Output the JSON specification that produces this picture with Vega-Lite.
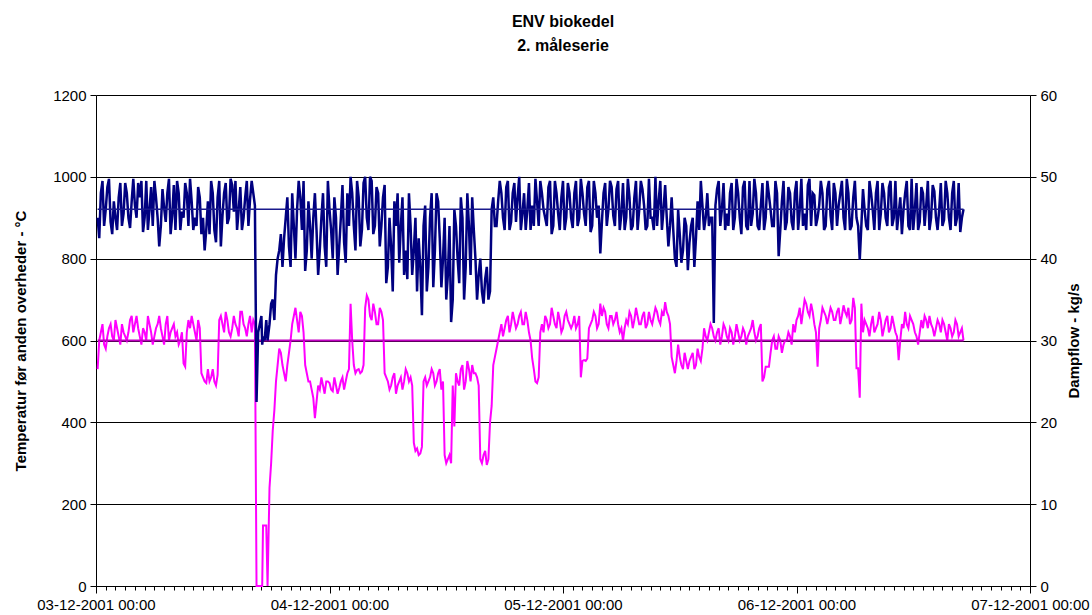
{
"$schema": "https://vega.github.io/schema/vega-lite/v6.json",
"width": 934, "height": 491,
"autosize": "none",
"padding": {"left": 96, "top": 95, "right": 62, "bottom": 29},
"background": "white",
"config": {"font": "Liberation Sans", "view": {"stroke": null}},
"title": {"text": ["ENV biokedel", "2. måleserie"], "fontSize": 16, "fontWeight": "bold", "font": "Liberation Sans", "lineHeight": 24, "anchor": "middle", "offset": 34, "color": "black"},
"datasets": {
"series": [
{"time":"2001-12-03 00:10","temp":900,"flow":26.5},{"time":"2001-12-03 00:20","temp":850,"flow":30},{"time":"2001-12-03 00:30","temp":960,"flow":31},{"time":"2001-12-03 00:40","temp":990,"flow":32},{"time":"2001-12-03 00:50","temp":880,"flow":29.5},
{"time":"2001-12-03 01:00","temp":920,"flow":29},{"time":"2001-12-03 01:10","temp":975,"flow":30.5},{"time":"2001-12-03 01:20","temp":995,"flow":31.5},{"time":"2001-12-03 01:30","temp":890,"flow":32},{"time":"2001-12-03 01:40","temp":860,"flow":30.5},{"time":"2001-12-03 01:50","temp":940,"flow":30},
{"time":"2001-12-03 02:00","temp":900,"flow":32.5},{"time":"2001-12-03 02:10","temp":870,"flow":31.5},{"time":"2001-12-03 02:20","temp":950,"flow":30.5},{"time":"2001-12-03 02:30","temp":985,"flow":29.5},{"time":"2001-12-03 02:40","temp":880,"flow":32},{"time":"2001-12-03 02:50","temp":910,"flow":31},
{"time":"2001-12-03 03:00","temp":985,"flow":30.5},{"time":"2001-12-03 03:10","temp":960,"flow":30},{"time":"2001-12-03 03:20","temp":900,"flow":31},{"time":"2001-12-03 03:30","temp":875,"flow":32.5},{"time":"2001-12-03 03:40","temp":940,"flow":33},{"time":"2001-12-03 03:50","temp":995,"flow":31},
{"time":"2001-12-03 04:00","temp":930,"flow":32},{"time":"2001-12-03 04:10","temp":900,"flow":33},{"time":"2001-12-03 04:20","temp":985,"flow":31.5},{"time":"2001-12-03 04:30","temp":950,"flow":30.5},{"time":"2001-12-03 04:40","temp":990,"flow":29.5},{"time":"2001-12-03 04:50","temp":865,"flow":31.5},
{"time":"2001-12-03 05:00","temp":900,"flow":31},{"time":"2001-12-03 05:10","temp":990,"flow":30},{"time":"2001-12-03 05:20","temp":870,"flow":33},{"time":"2001-12-03 05:30","temp":920,"flow":32},{"time":"2001-12-03 05:40","temp":975,"flow":31},{"time":"2001-12-03 05:50","temp":880,"flow":29.5},
{"time":"2001-12-03 06:00","temp":990,"flow":30.5},{"time":"2001-12-03 06:10","temp":950,"flow":31.5},{"time":"2001-12-03 06:20","temp":900,"flow":32},{"time":"2001-12-03 06:30","temp":830,"flow":33},{"time":"2001-12-03 06:40","temp":880,"flow":31.5},{"time":"2001-12-03 06:50","temp":970,"flow":30.5},
{"time":"2001-12-03 07:00","temp":925,"flow":29.5},{"time":"2001-12-03 07:10","temp":890,"flow":32},{"time":"2001-12-03 07:20","temp":960,"flow":33},{"time":"2001-12-03 07:30","temp":995,"flow":30},{"time":"2001-12-03 07:40","temp":860,"flow":31},{"time":"2001-12-03 07:50","temp":905,"flow":31.5},
{"time":"2001-12-03 08:00","temp":980,"flow":32},{"time":"2001-12-03 08:10","temp":870,"flow":30.5},{"time":"2001-12-03 08:20","temp":990,"flow":31},{"time":"2001-12-03 08:30","temp":960,"flow":29.5},{"time":"2001-12-03 08:40","temp":870,"flow":30},{"time":"2001-12-03 08:50","temp":915,"flow":31},
{"time":"2001-12-03 09:00","temp":900,"flow":27.2},{"time":"2001-12-03 09:10","temp":985,"flow":26.8},{"time":"2001-12-03 09:20","temp":960,"flow":31},{"time":"2001-12-03 09:30","temp":880,"flow":32.5},{"time":"2001-12-03 09:40","temp":995,"flow":31.5},{"time":"2001-12-03 09:50","temp":940,"flow":33},
{"time":"2001-12-03 10:00","temp":870,"flow":32},{"time":"2001-12-03 10:10","temp":900,"flow":31},{"time":"2001-12-03 10:20","temp":880,"flow":30},{"time":"2001-12-03 10:30","temp":975,"flow":32.5},{"time":"2001-12-03 10:40","temp":950,"flow":31.5},{"time":"2001-12-03 10:50","temp":860,"flow":26},
{"time":"2001-12-03 11:00","temp":900,"flow":25.5},{"time":"2001-12-03 11:10","temp":820,"flow":25},{"time":"2001-12-03 11:20","temp":870,"flow":24.8},{"time":"2001-12-03 11:30","temp":940,"flow":26.5},{"time":"2001-12-03 11:40","temp":860,"flow":25},{"time":"2001-12-03 11:50","temp":990,"flow":25.5},
{"time":"2001-12-03 12:00","temp":960,"flow":26.5},{"time":"2001-12-03 12:10","temp":870,"flow":25},{"time":"2001-12-03 12:20","temp":840,"flow":24.5},{"time":"2001-12-03 12:30","temp":950,"flow":25.8},{"time":"2001-12-03 12:40","temp":990,"flow":32.5},{"time":"2001-12-03 12:50","temp":830,"flow":33},
{"time":"2001-12-03 13:00","temp":905,"flow":32},{"time":"2001-12-03 13:10","temp":960,"flow":31},{"time":"2001-12-03 13:20","temp":985,"flow":33.5},{"time":"2001-12-03 13:30","temp":885,"flow":32.5},{"time":"2001-12-03 13:40","temp":900,"flow":31},{"time":"2001-12-03 13:50","temp":995,"flow":30.5},
{"time":"2001-12-03 14:00","temp":980,"flow":31.5},{"time":"2001-12-03 14:10","temp":915,"flow":33},{"time":"2001-12-03 14:20","temp":990,"flow":32},{"time":"2001-12-03 14:30","temp":870,"flow":31.5},{"time":"2001-12-03 14:40","temp":920,"flow":30.5},{"time":"2001-12-03 14:50","temp":975,"flow":33.5},
{"time":"2001-12-03 15:00","temp":870,"flow":33.5},{"time":"2001-12-03 15:10","temp":900,"flow":32},{"time":"2001-12-03 15:20","temp":950,"flow":31.5},{"time":"2001-12-03 15:30","temp":990,"flow":30.5},{"time":"2001-12-03 15:40","temp":880,"flow":32},{"time":"2001-12-03 15:50","temp":945,"flow":33},
{"time":"2001-12-03 16:00","temp":990,"flow":31},{"time":"2001-12-03 16:10","temp":960,"flow":32.5},{"time":"2001-12-03 16:20","temp":930,"flow":32},{"time":"2001-12-03 16:30","temp":450,"flow":0},{"time":"2001-12-03 16:40","temp":620,"flow":0},{"time":"2001-12-03 16:50","temp":640,"flow":0},
{"time":"2001-12-03 17:00","temp":660,"flow":0},{"time":"2001-12-03 17:05","temp":590,"flow":0},{"time":"2001-12-03 17:10","temp":610,"flow":7.4},{"time":"2001-12-03 17:20","temp":600,"flow":7.4},{"time":"2001-12-03 17:30","temp":650,"flow":7.4},{"time":"2001-12-03 17:38","temp":600,"flow":0},{"time":"2001-12-03 17:50","temp":640,"flow":12},
{"time":"2001-12-03 18:00","temp":690,"flow":15},{"time":"2001-12-03 18:10","temp":700,"flow":19},{"time":"2001-12-03 18:20","temp":650,"flow":21.5},{"time":"2001-12-03 18:30","temp":760,"flow":25},{"time":"2001-12-03 18:40","temp":800,"flow":27},{"time":"2001-12-03 18:50","temp":820,"flow":29},
{"time":"2001-12-03 19:00","temp":860,"flow":28.5},{"time":"2001-12-03 19:10","temp":780,"flow":27},{"time":"2001-12-03 19:20","temp":850,"flow":26},{"time":"2001-12-03 19:30","temp":900,"flow":25},{"time":"2001-12-03 19:40","temp":950,"flow":27},{"time":"2001-12-03 19:50","temp":830,"flow":28.5},
{"time":"2001-12-03 20:00","temp":780,"flow":30},{"time":"2001-12-03 20:10","temp":960,"flow":32},{"time":"2001-12-03 20:20","temp":880,"flow":33},{"time":"2001-12-03 20:30","temp":800,"flow":34},{"time":"2001-12-03 20:40","temp":920,"flow":32.5},{"time":"2001-12-03 20:50","temp":990,"flow":31},
{"time":"2001-12-03 21:00","temp":950,"flow":33.5},{"time":"2001-12-03 21:10","temp":870,"flow":33},{"time":"2001-12-03 21:20","temp":990,"flow":31},{"time":"2001-12-03 21:30","temp":770,"flow":27},{"time":"2001-12-03 21:40","temp":820,"flow":26},{"time":"2001-12-03 21:50","temp":940,"flow":25},
{"time":"2001-12-03 22:00","temp":880,"flow":25},{"time":"2001-12-03 22:10","temp":800,"flow":24},{"time":"2001-12-03 22:20","temp":900,"flow":23},{"time":"2001-12-03 22:30","temp":960,"flow":20.5},{"time":"2001-12-03 22:40","temp":870,"flow":22.5},{"time":"2001-12-03 22:50","temp":760,"flow":24.5},
{"time":"2001-12-03 23:00","temp":820,"flow":24},{"time":"2001-12-03 23:10","temp":900,"flow":25.5},{"time":"2001-12-03 23:20","temp":960,"flow":24.5},{"time":"2001-12-03 23:30","temp":830,"flow":23.5},{"time":"2001-12-03 23:40","temp":780,"flow":25},{"time":"2001-12-03 23:50","temp":990,"flow":25},
{"time":"2001-12-04 00:00","temp":920,"flow":24.8},{"time":"2001-12-04 00:10","temp":870,"flow":24},{"time":"2001-12-04 00:20","temp":800,"flow":23.8},{"time":"2001-12-04 00:30","temp":950,"flow":25.5},{"time":"2001-12-04 00:40","temp":900,"flow":24.5},{"time":"2001-12-04 00:50","temp":760,"flow":23.5},
{"time":"2001-12-04 01:00","temp":830,"flow":24.2},{"time":"2001-12-04 01:10","temp":900,"flow":25},{"time":"2001-12-04 01:20","temp":980,"flow":25.5},{"time":"2001-12-04 01:30","temp":840,"flow":24},{"time":"2001-12-04 01:40","temp":790,"flow":25},{"time":"2001-12-04 01:50","temp":960,"flow":26},
{"time":"2001-12-04 02:00","temp":880,"flow":26.5},{"time":"2001-12-04 02:10","temp":1000,"flow":34.5},{"time":"2001-12-04 02:20","temp":960,"flow":30},{"time":"2001-12-04 02:30","temp":880,"flow":27},{"time":"2001-12-04 02:40","temp":820,"flow":26},{"time":"2001-12-04 02:50","temp":990,"flow":26.4},
{"time":"2001-12-04 03:00","temp":950,"flow":26.5},{"time":"2001-12-04 03:10","temp":830,"flow":26},{"time":"2001-12-04 03:20","temp":870,"flow":26.2},{"time":"2001-12-04 03:30","temp":985,"flow":27},{"time":"2001-12-04 03:40","temp":1000,"flow":34},{"time":"2001-12-04 03:50","temp":900,"flow":35.5},
{"time":"2001-12-04 04:00","temp":870,"flow":35},{"time":"2001-12-04 04:10","temp":1000,"flow":33},{"time":"2001-12-04 04:20","temp":990,"flow":32.5},{"time":"2001-12-04 04:30","temp":860,"flow":34.5},{"time":"2001-12-04 04:40","temp":880,"flow":33.5},{"time":"2001-12-04 04:50","temp":975,"flow":32},
{"time":"2001-12-04 05:00","temp":960,"flow":32},{"time":"2001-12-04 05:10","temp":830,"flow":34},{"time":"2001-12-04 05:20","temp":880,"flow":33.5},{"time":"2001-12-04 05:30","temp":950,"flow":32.5},{"time":"2001-12-04 05:40","temp":980,"flow":26},{"time":"2001-12-04 05:50","temp":740,"flow":25.5},
{"time":"2001-12-04 06:00","temp":780,"flow":25},{"time":"2001-12-04 06:10","temp":900,"flow":24},{"time":"2001-12-04 06:20","temp":830,"flow":24.5},{"time":"2001-12-04 06:30","temp":720,"flow":25.5},{"time":"2001-12-04 06:40","temp":940,"flow":26},{"time":"2001-12-04 06:50","temp":880,"flow":23.5},
{"time":"2001-12-04 07:00","temp":960,"flow":24.5},{"time":"2001-12-04 07:10","temp":790,"flow":25},{"time":"2001-12-04 07:20","temp":880,"flow":25.5},{"time":"2001-12-04 07:30","temp":950,"flow":24},{"time":"2001-12-04 07:40","temp":760,"flow":25},{"time":"2001-12-04 07:50","temp":820,"flow":26.5},
{"time":"2001-12-04 08:00","temp":750,"flow":26},{"time":"2001-12-04 08:10","temp":960,"flow":25},{"time":"2001-12-04 08:20","temp":880,"flow":25.5},{"time":"2001-12-04 08:30","temp":760,"flow":24.5},{"time":"2001-12-04 08:40","temp":820,"flow":17.5},{"time":"2001-12-04 08:50","temp":900,"flow":16.5},
{"time":"2001-12-04 09:00","temp":720,"flow":16.8},{"time":"2001-12-04 09:10","temp":850,"flow":16},{"time":"2001-12-04 09:20","temp":780,"flow":16.2},{"time":"2001-12-04 09:30","temp":662,"flow":17},{"time":"2001-12-04 09:40","temp":880,"flow":25},{"time":"2001-12-04 09:50","temp":930,"flow":25.5},
{"time":"2001-12-04 10:00","temp":720,"flow":24.5},{"time":"2001-12-04 10:10","temp":780,"flow":25},{"time":"2001-12-04 10:20","temp":900,"flow":25.5},{"time":"2001-12-04 10:30","temp":960,"flow":26.5},{"time":"2001-12-04 10:40","temp":730,"flow":26},{"time":"2001-12-04 10:50","temp":820,"flow":24.5},
{"time":"2001-12-04 11:00","temp":960,"flow":25},{"time":"2001-12-04 11:10","temp":940,"flow":26},{"time":"2001-12-04 11:20","temp":850,"flow":26.5},{"time":"2001-12-04 11:30","temp":730,"flow":24},{"time":"2001-12-04 11:40","temp":800,"flow":25},{"time":"2001-12-04 11:50","temp":900,"flow":16},
{"time":"2001-12-04 12:00","temp":700,"flow":15},{"time":"2001-12-04 12:10","temp":760,"flow":15.5},{"time":"2001-12-04 12:20","temp":880,"flow":16},{"time":"2001-12-04 12:30","temp":645,"flow":15},{"time":"2001-12-04 12:40","temp":700,"flow":24.5},{"time":"2001-12-04 12:50","temp":920,"flow":19.5},
{"time":"2001-12-04 13:00","temp":880,"flow":26},{"time":"2001-12-04 13:10","temp":800,"flow":25},{"time":"2001-12-04 13:20","temp":740,"flow":24.5},{"time":"2001-12-04 13:30","temp":950,"flow":26.5},{"time":"2001-12-04 13:40","temp":900,"flow":27},{"time":"2001-12-04 13:50","temp":700,"flow":24},
{"time":"2001-12-04 14:00","temp":780,"flow":25},{"time":"2001-12-04 14:10","temp":960,"flow":27.5},{"time":"2001-12-04 14:20","temp":880,"flow":26.5},{"time":"2001-12-04 14:30","temp":760,"flow":25},{"time":"2001-12-04 14:40","temp":950,"flow":27},{"time":"2001-12-04 14:50","temp":870,"flow":26},
{"time":"2001-12-04 15:00","temp":800,"flow":26},{"time":"2001-12-04 15:10","temp":700,"flow":25.5},{"time":"2001-12-04 15:20","temp":760,"flow":24.5},{"time":"2001-12-04 15:30","temp":800,"flow":15.5},{"time":"2001-12-04 15:40","temp":720,"flow":15},{"time":"2001-12-04 15:50","temp":690,"flow":16},
{"time":"2001-12-04 16:00","temp":750,"flow":16.5},{"time":"2001-12-04 16:10","temp":780,"flow":14.8},{"time":"2001-12-04 16:20","temp":700,"flow":15.5},{"time":"2001-12-04 16:30","temp":720,"flow":20},{"time":"2001-12-04 16:40","temp":920,"flow":22},{"time":"2001-12-04 16:50","temp":950,"flow":27},
{"time":"2001-12-04 17:00","temp":880,"flow":28},{"time":"2001-12-04 17:10","temp":880,"flow":29},{"time":"2001-12-04 17:20","temp":940,"flow":30},{"time":"2001-12-04 17:30","temp":990,"flow":31},{"time":"2001-12-04 17:40","temp":960,"flow":32},{"time":"2001-12-04 17:50","temp":900,"flow":30.5},
{"time":"2001-12-04 18:00","temp":870,"flow":31.5},{"time":"2001-12-04 18:10","temp":975,"flow":32.5},{"time":"2001-12-04 18:20","temp":990,"flow":33},{"time":"2001-12-04 18:30","temp":870,"flow":31},{"time":"2001-12-04 18:40","temp":890,"flow":32},{"time":"2001-12-04 18:50","temp":960,"flow":33.5},
{"time":"2001-12-04 19:00","temp":985,"flow":32.5},{"time":"2001-12-04 19:10","temp":890,"flow":31.5},{"time":"2001-12-04 19:20","temp":950,"flow":32},{"time":"2001-12-04 19:30","temp":1000,"flow":33},{"time":"2001-12-04 19:40","temp":870,"flow":33.5},{"time":"2001-12-04 19:50","temp":910,"flow":32},
{"time":"2001-12-04 20:00","temp":960,"flow":32},{"time":"2001-12-04 20:10","temp":870,"flow":33.5},{"time":"2001-12-04 20:20","temp":920,"flow":32.5},{"time":"2001-12-04 20:30","temp":985,"flow":31},{"time":"2001-12-04 20:40","temp":870,"flow":30},{"time":"2001-12-04 20:50","temp":930,"flow":27.8},
{"time":"2001-12-04 21:00","temp":880,"flow":26.5},{"time":"2001-12-04 21:10","temp":995,"flow":25},{"time":"2001-12-04 21:20","temp":940,"flow":24.8},{"time":"2001-12-04 21:30","temp":880,"flow":25.5},{"time":"2001-12-04 21:40","temp":990,"flow":31},{"time":"2001-12-04 21:50","temp":960,"flow":32},
{"time":"2001-12-04 22:00","temp":920,"flow":31},{"time":"2001-12-04 22:10","temp":900,"flow":33},{"time":"2001-12-04 22:20","temp":880,"flow":32.5},{"time":"2001-12-04 22:30","temp":975,"flow":31.5},{"time":"2001-12-04 22:40","temp":990,"flow":32},{"time":"2001-12-04 22:50","temp":860,"flow":34},
{"time":"2001-12-04 23:00","temp":880,"flow":33},{"time":"2001-12-04 23:10","temp":990,"flow":32},{"time":"2001-12-04 23:20","temp":960,"flow":31.5},{"time":"2001-12-04 23:30","temp":910,"flow":33.5},{"time":"2001-12-04 23:40","temp":870,"flow":32.5},{"time":"2001-12-04 23:50","temp":950,"flow":31},
{"time":"2001-12-05 00:00","temp":990,"flow":31.5},{"time":"2001-12-05 00:10","temp":870,"flow":33},{"time":"2001-12-05 00:20","temp":900,"flow":33.5},{"time":"2001-12-05 00:30","temp":985,"flow":32.5},{"time":"2001-12-05 00:40","temp":960,"flow":32},{"time":"2001-12-05 00:50","temp":900,"flow":31.5},
{"time":"2001-12-05 01:00","temp":875,"flow":32},{"time":"2001-12-05 01:10","temp":960,"flow":33},{"time":"2001-12-05 01:20","temp":990,"flow":31.5},{"time":"2001-12-05 01:30","temp":880,"flow":32},{"time":"2001-12-05 01:40","temp":900,"flow":33},{"time":"2001-12-05 01:50","temp":995,"flow":25.5},
{"time":"2001-12-05 02:00","temp":960,"flow":27.5},{"time":"2001-12-05 02:10","temp":910,"flow":27.6},{"time":"2001-12-05 02:20","temp":880,"flow":27.5},{"time":"2001-12-05 02:30","temp":975,"flow":27.8},{"time":"2001-12-05 02:40","temp":990,"flow":31.5},{"time":"2001-12-05 02:50","temp":865,"flow":32},
{"time":"2001-12-05 03:00","temp":880,"flow":32.5},{"time":"2001-12-05 03:10","temp":990,"flow":33.5},{"time":"2001-12-05 03:20","temp":960,"flow":33},{"time":"2001-12-05 03:30","temp":900,"flow":31.5},{"time":"2001-12-05 03:40","temp":930,"flow":32},{"time":"2001-12-05 03:50","temp":813,"flow":34.5},
{"time":"2001-12-05 04:00","temp":890,"flow":33},{"time":"2001-12-05 04:10","temp":960,"flow":34},{"time":"2001-12-05 04:20","temp":985,"flow":33.5},{"time":"2001-12-05 04:30","temp":880,"flow":32},{"time":"2001-12-05 04:40","temp":920,"flow":31.5},{"time":"2001-12-05 04:50","temp":990,"flow":33},
{"time":"2001-12-05 05:00","temp":975,"flow":33},{"time":"2001-12-05 05:10","temp":905,"flow":32},{"time":"2001-12-05 05:20","temp":880,"flow":32.5},{"time":"2001-12-05 05:30","temp":970,"flow":33.5},{"time":"2001-12-05 05:40","temp":990,"flow":32},{"time":"2001-12-05 05:50","temp":870,"flow":31},
{"time":"2001-12-05 06:00","temp":910,"flow":31.5},{"time":"2001-12-05 06:10","temp":985,"flow":30},{"time":"2001-12-05 06:20","temp":870,"flow":31.5},{"time":"2001-12-05 06:30","temp":900,"flow":32.5},{"time":"2001-12-05 06:40","temp":995,"flow":32},{"time":"2001-12-05 06:50","temp":950,"flow":33.5},
{"time":"2001-12-05 07:00","temp":870,"flow":33},{"time":"2001-12-05 07:10","temp":880,"flow":31.5},{"time":"2001-12-05 07:20","temp":950,"flow":32.5},{"time":"2001-12-05 07:30","temp":990,"flow":34},{"time":"2001-12-05 07:40","temp":870,"flow":33},{"time":"2001-12-05 07:50","temp":920,"flow":32},
{"time":"2001-12-05 08:00","temp":990,"flow":32},{"time":"2001-12-05 08:10","temp":970,"flow":33},{"time":"2001-12-05 08:20","temp":930,"flow":33.5},{"time":"2001-12-05 08:30","temp":870,"flow":31.5},{"time":"2001-12-05 08:40","temp":880,"flow":32},{"time":"2001-12-05 08:50","temp":995,"flow":33.5},
{"time":"2001-12-05 09:00","temp":900,"flow":32.5},{"time":"2001-12-05 09:10","temp":900,"flow":32},{"time":"2001-12-05 09:20","temp":870,"flow":33},{"time":"2001-12-05 09:30","temp":1000,"flow":34},{"time":"2001-12-05 09:40","temp":880,"flow":33.5},{"time":"2001-12-05 09:50","temp":940,"flow":32.5},
{"time":"2001-12-05 10:00","temp":990,"flow":32},{"time":"2001-12-05 10:10","temp":870,"flow":33.5},{"time":"2001-12-05 10:20","temp":920,"flow":33},{"time":"2001-12-05 10:30","temp":980,"flow":34.7},{"time":"2001-12-05 10:40","temp":900,"flow":33.5},{"time":"2001-12-05 10:50","temp":830,"flow":33},
{"time":"2001-12-05 11:00","temp":880,"flow":32},{"time":"2001-12-05 11:10","temp":950,"flow":28},{"time":"2001-12-05 11:20","temp":870,"flow":27},{"time":"2001-12-05 11:30","temp":800,"flow":26},{"time":"2001-12-05 11:40","temp":780,"flow":27.5},{"time":"2001-12-05 11:50","temp":920,"flow":29.5},
{"time":"2001-12-05 12:00","temp":860,"flow":28},{"time":"2001-12-05 12:10","temp":790,"flow":27},{"time":"2001-12-05 12:20","temp":820,"flow":26.5},{"time":"2001-12-05 12:30","temp":900,"flow":28.5},{"time":"2001-12-05 12:40","temp":880,"flow":27.5},{"time":"2001-12-05 12:50","temp":772,"flow":26.5},
{"time":"2001-12-05 13:00","temp":840,"flow":27.5},{"time":"2001-12-05 13:10","temp":880,"flow":28},{"time":"2001-12-05 13:20","temp":900,"flow":28.5},{"time":"2001-12-05 13:30","temp":780,"flow":26.5},{"time":"2001-12-05 13:40","temp":850,"flow":27},{"time":"2001-12-05 13:50","temp":940,"flow":29},
{"time":"2001-12-05 14:00","temp":870,"flow":28},{"time":"2001-12-05 14:10","temp":990,"flow":27.5},{"time":"2001-12-05 14:20","temp":930,"flow":29},{"time":"2001-12-05 14:30","temp":870,"flow":31.5},{"time":"2001-12-05 14:40","temp":900,"flow":30.5},{"time":"2001-12-05 14:50","temp":960,"flow":30},
{"time":"2001-12-05 15:00","temp":880,"flow":31},{"time":"2001-12-05 15:10","temp":900,"flow":32},{"time":"2001-12-05 15:20","temp":900,"flow":31.5},{"time":"2001-12-05 15:30","temp":643,"flow":30.5},{"time":"2001-12-05 15:40","temp":930,"flow":30},{"time":"2001-12-05 15:50","temp":970,"flow":31},
{"time":"2001-12-05 16:00","temp":990,"flow":31.5},{"time":"2001-12-05 16:10","temp":880,"flow":29.5},{"time":"2001-12-05 16:20","temp":920,"flow":30.5},{"time":"2001-12-05 16:30","temp":985,"flow":32},{"time":"2001-12-05 16:40","temp":870,"flow":31.5},{"time":"2001-12-05 16:50","temp":910,"flow":30.5},
{"time":"2001-12-05 17:00","temp":880,"flow":30},{"time":"2001-12-05 17:10","temp":960,"flow":31.5},{"time":"2001-12-05 17:20","temp":985,"flow":31},{"time":"2001-12-05 17:30","temp":870,"flow":29.5},{"time":"2001-12-05 17:40","temp":900,"flow":30.5},{"time":"2001-12-05 17:50","temp":995,"flow":32},
{"time":"2001-12-05 18:00","temp":960,"flow":31},{"time":"2001-12-05 18:10","temp":900,"flow":30},{"time":"2001-12-05 18:20","temp":860,"flow":30.5},{"time":"2001-12-05 18:30","temp":975,"flow":31.5},{"time":"2001-12-05 18:40","temp":990,"flow":31},{"time":"2001-12-05 18:50","temp":880,"flow":29.5},
{"time":"2001-12-05 19:00","temp":870,"flow":30.5},{"time":"2001-12-05 19:10","temp":990,"flow":31},{"time":"2001-12-05 19:20","temp":880,"flow":31.5},{"time":"2001-12-05 19:30","temp":910,"flow":32.5},{"time":"2001-12-05 19:40","temp":995,"flow":31},{"time":"2001-12-05 19:50","temp":960,"flow":30},
{"time":"2001-12-05 20:00","temp":880,"flow":30.5},{"time":"2001-12-05 20:10","temp":870,"flow":31.5},{"time":"2001-12-05 20:20","temp":930,"flow":32},{"time":"2001-12-05 20:30","temp":985,"flow":25},{"time":"2001-12-05 20:40","temp":870,"flow":25.5},{"time":"2001-12-05 20:50","temp":900,"flow":26.8},
{"time":"2001-12-05 21:00","temp":990,"flow":26.8},{"time":"2001-12-05 21:10","temp":955,"flow":26.8},{"time":"2001-12-05 21:20","temp":920,"flow":28.5},{"time":"2001-12-05 21:30","temp":880,"flow":30},{"time":"2001-12-05 21:40","temp":880,"flow":30.5},{"time":"2001-12-05 21:50","temp":990,"flow":29},
{"time":"2001-12-05 22:00","temp":960,"flow":29},{"time":"2001-12-05 22:10","temp":806,"flow":30.5},{"time":"2001-12-05 22:20","temp":870,"flow":30},{"time":"2001-12-05 22:30","temp":940,"flow":28.5},{"time":"2001-12-05 22:40","temp":990,"flow":29.5},{"time":"2001-12-05 22:50","temp":870,"flow":30},
{"time":"2001-12-05 23:00","temp":890,"flow":30},{"time":"2001-12-05 23:10","temp":975,"flow":31},{"time":"2001-12-05 23:20","temp":960,"flow":30.5},{"time":"2001-12-05 23:30","temp":890,"flow":29.5},{"time":"2001-12-05 23:40","temp":870,"flow":32},{"time":"2001-12-05 23:50","temp":960,"flow":31},
{"time":"2001-12-06 00:00","temp":990,"flow":32.5},{"time":"2001-12-06 00:10","temp":870,"flow":33},{"time":"2001-12-06 00:20","temp":920,"flow":34},{"time":"2001-12-06 00:30","temp":995,"flow":32},{"time":"2001-12-06 00:40","temp":880,"flow":33.5},{"time":"2001-12-06 00:50","temp":910,"flow":35},
{"time":"2001-12-06 01:00","temp":870,"flow":34.5},{"time":"2001-12-06 01:10","temp":980,"flow":33.5},{"time":"2001-12-06 01:20","temp":995,"flow":33},{"time":"2001-12-06 01:30","temp":880,"flow":34.5},{"time":"2001-12-06 01:40","temp":960,"flow":33.5},{"time":"2001-12-06 01:50","temp":955,"flow":32},
{"time":"2001-12-06 02:00","temp":880,"flow":31},{"time":"2001-12-06 02:10","temp":900,"flow":26.8},{"time":"2001-12-06 02:20","temp":930,"flow":31.5},{"time":"2001-12-06 02:30","temp":990,"flow":32.5},{"time":"2001-12-06 02:40","temp":960,"flow":34},{"time":"2001-12-06 02:50","temp":870,"flow":33.5},
{"time":"2001-12-06 03:00","temp":880,"flow":33},{"time":"2001-12-06 03:10","temp":970,"flow":32},{"time":"2001-12-06 03:20","temp":990,"flow":33},{"time":"2001-12-06 03:30","temp":905,"flow":34},{"time":"2001-12-06 03:40","temp":870,"flow":33.5},{"time":"2001-12-06 03:50","temp":985,"flow":32.5},
{"time":"2001-12-06 04:00","temp":960,"flow":32.5},{"time":"2001-12-06 04:10","temp":880,"flow":33.5},{"time":"2001-12-06 04:20","temp":930,"flow":34},{"time":"2001-12-06 04:30","temp":960,"flow":32},{"time":"2001-12-06 04:40","temp":990,"flow":33},{"time":"2001-12-06 04:50","temp":900,"flow":34.3},
{"time":"2001-12-06 05:00","temp":870,"flow":33.5},{"time":"2001-12-06 05:10","temp":995,"flow":33},{"time":"2001-12-06 05:20","temp":960,"flow":34},{"time":"2001-12-06 05:30","temp":870,"flow":32},{"time":"2001-12-06 05:40","temp":880,"flow":32.5},{"time":"2001-12-06 05:50","temp":950,"flow":35.2},
{"time":"2001-12-06 06:00","temp":990,"flow":34},{"time":"2001-12-06 06:10","temp":900,"flow":26.6},{"time":"2001-12-06 06:20","temp":880,"flow":26.6},{"time":"2001-12-06 06:30","temp":797,"flow":23},{"time":"2001-12-06 06:40","temp":880,"flow":34.5},{"time":"2001-12-06 06:50","temp":970,"flow":31},
{"time":"2001-12-06 07:00","temp":920,"flow":32.5},{"time":"2001-12-06 07:10","temp":880,"flow":32},{"time":"2001-12-06 07:20","temp":870,"flow":31.5},{"time":"2001-12-06 07:30","temp":990,"flow":30.5},{"time":"2001-12-06 07:40","temp":960,"flow":32},{"time":"2001-12-06 07:50","temp":920,"flow":33},
{"time":"2001-12-06 08:00","temp":870,"flow":31},{"time":"2001-12-06 08:10","temp":960,"flow":31.5},{"time":"2001-12-06 08:20","temp":990,"flow":32},{"time":"2001-12-06 08:30","temp":870,"flow":33.5},{"time":"2001-12-06 08:40","temp":910,"flow":32.5},{"time":"2001-12-06 08:50","temp":985,"flow":30.5},
{"time":"2001-12-06 09:00","temp":960,"flow":31.5},{"time":"2001-12-06 09:10","temp":900,"flow":32.5},{"time":"2001-12-06 09:20","temp":880,"flow":33},{"time":"2001-12-06 09:30","temp":975,"flow":31},{"time":"2001-12-06 09:40","temp":990,"flow":31.5},{"time":"2001-12-06 09:50","temp":880,"flow":33},
{"time":"2001-12-06 10:00","temp":900,"flow":32},{"time":"2001-12-06 10:10","temp":990,"flow":31},{"time":"2001-12-06 10:20","temp":870,"flow":30.5},{"time":"2001-12-06 10:30","temp":910,"flow":27.6},{"time":"2001-12-06 10:40","temp":950,"flow":30},{"time":"2001-12-06 10:50","temp":860,"flow":32},
{"time":"2001-12-06 11:00","temp":920,"flow":31.5},{"time":"2001-12-06 11:10","temp":960,"flow":33.5},{"time":"2001-12-06 11:20","temp":990,"flow":32},{"time":"2001-12-06 11:30","temp":880,"flow":31.5},{"time":"2001-12-06 11:40","temp":870,"flow":33},{"time":"2001-12-06 11:50","temp":995,"flow":32.5},
{"time":"2001-12-06 12:00","temp":870,"flow":32},{"time":"2001-12-06 12:10","temp":920,"flow":31},{"time":"2001-12-06 12:20","temp":985,"flow":30.5},{"time":"2001-12-06 12:30","temp":870,"flow":29.5},{"time":"2001-12-06 12:40","temp":890,"flow":31},{"time":"2001-12-06 12:50","temp":975,"flow":32.5},
{"time":"2001-12-06 13:00","temp":960,"flow":31.5},{"time":"2001-12-06 13:10","temp":880,"flow":33},{"time":"2001-12-06 13:20","temp":930,"flow":32.5},{"time":"2001-12-06 13:30","temp":990,"flow":31.5},{"time":"2001-12-06 13:40","temp":870,"flow":33},{"time":"2001-12-06 13:50","temp":900,"flow":32},
{"time":"2001-12-06 14:00","temp":980,"flow":31.5},{"time":"2001-12-06 14:10","temp":965,"flow":30.5},{"time":"2001-12-06 14:20","temp":900,"flow":31.5},{"time":"2001-12-06 14:30","temp":870,"flow":32.5},{"time":"2001-12-06 14:40","temp":920,"flow":32},{"time":"2001-12-06 14:50","temp":985,"flow":31},
{"time":"2001-12-06 15:00","temp":880,"flow":32.5},{"time":"2001-12-06 15:10","temp":895,"flow":32},{"time":"2001-12-06 15:20","temp":990,"flow":31},{"time":"2001-12-06 15:30","temp":960,"flow":30},{"time":"2001-12-06 15:40","temp":900,"flow":32},{"time":"2001-12-06 15:50","temp":870,"flow":31.5},
{"time":"2001-12-06 16:00","temp":960,"flow":30.5},{"time":"2001-12-06 16:10","temp":990,"flow":31},{"time":"2001-12-06 16:20","temp":880,"flow":32.5},{"time":"2001-12-06 16:30","temp":900,"flow":32},{"time":"2001-12-06 16:40","temp":985,"flow":30.5},{"time":"2001-12-06 16:50","temp":865,"flow":31},
{"time":"2001-12-06 17:00","temp":900,"flow":31.5},{"time":"2001-12-06 17:10","temp":921,"flow":30}
],
"closing": [{"start":"2001-12-03 00:10","end":"2001-12-06 17:10","temp":921,"flow":30}]
},
"layer": [
  {"layer": [
    {"data": {"name": "series"},
     "mark": {"type": "line", "color": "#FF00FF", "strokeWidth": 2},
     "encoding": {
       "x": {"field": "time", "type": "temporal",
         "scale": {"domain": [{"year": 2001, "month": 12, "date": 3}, {"year": 2001, "month": 12, "date": 7}]},
         "axis": {"title": null, "tickCount": 96,
           "labelExpr": "hours(datum.value) === 0 ? timeFormat(datum.value, '%d-%m-%Y %H:%M') : ''",
           "labelOverlap": false, "labelFlush": false, "labelBound": false, "grid": false,
           "domainColor": "black", "tickColor": "black", "labelColor": "black", "labelFontSize": 15, "labelPadding": 4,
           "tickSize": {"condition": {"test": "hours(datum.value) === 0", "value": 7}, "value": 4}}},
       "y": {"field": "flow", "type": "quantitative", "scale": {"domain": [0, 60]},
         "axis": {"orient": "right", "values": [0, 10, 20, 30, 40, 50, 60], "grid": false, "domainColor": "black", "tickColor": "black", "tickSize": 6,
           "labelColor": "black", "labelFontSize": 15, "labelPadding": 4,
           "title": "Dampflow - kg/s", "titleFontSize": 15, "titleFontWeight": "bold", "titleColor": "black", "titleAngle": 270, "titlePadding": 25}}}},
    {"data": {"name": "closing"},
     "mark": {"type": "rule", "color": "#C000C0", "strokeWidth": 2},
     "encoding": {"x": {"field": "start", "type": "temporal"}, "x2": {"field": "end"}, "y": {"field": "flow", "type": "quantitative"}}}
  ]},
  {"layer": [
    {"data": {"name": "series"},
     "mark": {"type": "line", "color": "#000080", "strokeWidth": 2.5},
     "encoding": {
       "x": {"field": "time", "type": "temporal"},
       "y": {"field": "temp", "type": "quantitative", "scale": {"domain": [0, 1200]},
         "axis": {"orient": "left", "values": [0, 200, 400, 600, 800, 1000, 1200], "format": "d", "grid": true, "gridColor": "black", "gridWidth": 1, "gridOpacity": 1,
           "domainColor": "black", "tickColor": "black", "tickSize": 6,
           "labelColor": "black", "labelFontSize": 15, "labelPadding": 4,
           "title": "Temperatur før anden overheder - °C", "titleFontSize": 15, "titleFontWeight": "bold", "titleColor": "black", "titlePadding": 24}}}},
    {"data": {"name": "closing"},
     "mark": {"type": "rule", "color": "#1a1a8c", "strokeWidth": 1.5},
     "encoding": {"x": {"field": "start", "type": "temporal"}, "x2": {"field": "end"}, "y": {"field": "temp", "type": "quantitative"}}}
  ]}
],
"resolve": {"scale": {"y": "independent"}}
}
